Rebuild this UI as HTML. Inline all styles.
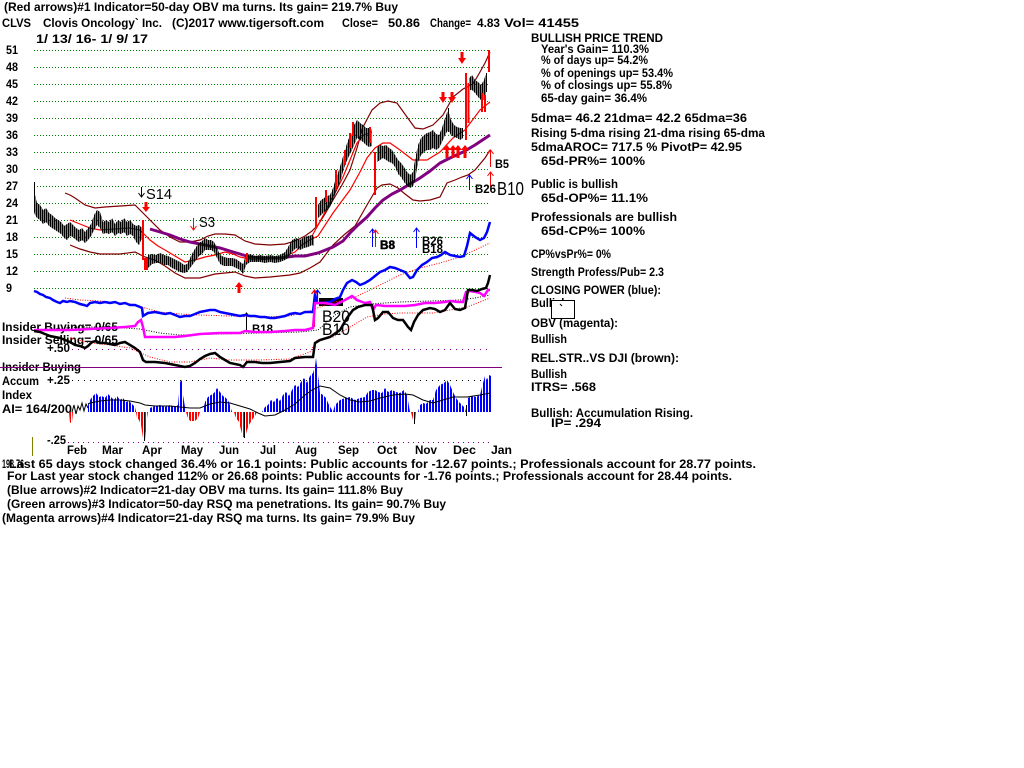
<!DOCTYPE html>
<html><head><meta charset="utf-8"><style>
html,body{margin:0;padding:0;background:#fff;}
svg{display:block;}
.t{font-family:"Liberation Sans",sans-serif;font-weight:bold;font-size:11.5px;fill:#000;}
.n{font-family:"Liberation Sans",sans-serif;font-weight:normal;fill:#000;}
</style></head><body>
<svg width="1024" height="768" viewBox="0 0 1024 768" xmlns="http://www.w3.org/2000/svg">
<rect width="1024" height="768" fill="#fff"/>
<defs>
<pattern id="pb" width="2" height="4" patternUnits="userSpaceOnUse"><rect x="0" y="0" width="1.5" height="4" fill="#000" shape-rendering="crispEdges"/></pattern>
<pattern id="pbl" width="3" height="4" patternUnits="userSpaceOnUse"><rect x="0" y="0" width="1.9" height="4" fill="#0000ff" shape-rendering="crispEdges"/></pattern>
<pattern id="prd" width="3" height="4" patternUnits="userSpaceOnUse"><rect x="0" y="0" width="1.9" height="4" fill="#ff0000" shape-rendering="crispEdges"/></pattern>
</defs>

<!-- header -->
<text class="t" x="4" y="11" textLength="394" lengthAdjust="spacingAndGlyphs">(Red arrows)#1 Indicator=50-day OBV ma turns. Its gain= 219.7% Buy</text>
<text class="t" x="2" y="27" textLength="29" lengthAdjust="spacingAndGlyphs">CLVS</text>
<text class="t" x="43" y="27" textLength="119" lengthAdjust="spacingAndGlyphs">Clovis Oncology` Inc.</text>
<text class="t" x="172" y="27" textLength="152" lengthAdjust="spacingAndGlyphs">(C)2017 www.tigersoft.com</text>
<text class="t" x="342" y="27" textLength="36" lengthAdjust="spacingAndGlyphs">Close=</text>
<text class="t" x="388" y="27" textLength="32" lengthAdjust="spacingAndGlyphs">50.86</text>
<text class="t" x="430" y="27" textLength="41" lengthAdjust="spacingAndGlyphs">Change=</text>
<text class="t" x="477" y="27" textLength="23" lengthAdjust="spacingAndGlyphs">4.83</text>
<text class="t" x="504" y="27" textLength="75" lengthAdjust="spacingAndGlyphs">Vol= 41455</text>
<text class="t" x="36" y="43" textLength="112" lengthAdjust="spacingAndGlyphs">1/ 13/ 16- 1/ 9/ 17</text>

<!-- y labels -->
<g>
<text class="t" x="6" y="54" textLength="12" lengthAdjust="spacingAndGlyphs">51</text>
<text class="t" x="6" y="71" textLength="12" lengthAdjust="spacingAndGlyphs">48</text>
<text class="t" x="6" y="88" textLength="12" lengthAdjust="spacingAndGlyphs">45</text>
<text class="t" x="6" y="105" textLength="12" lengthAdjust="spacingAndGlyphs">42</text>
<text class="t" x="6" y="122" textLength="12" lengthAdjust="spacingAndGlyphs">39</text>
<text class="t" x="6" y="139" textLength="12" lengthAdjust="spacingAndGlyphs">36</text>
<text class="t" x="6" y="156" textLength="12" lengthAdjust="spacingAndGlyphs">33</text>
<text class="t" x="6" y="173" textLength="12" lengthAdjust="spacingAndGlyphs">30</text>
<text class="t" x="6" y="190" textLength="12" lengthAdjust="spacingAndGlyphs">27</text>
<text class="t" x="6" y="207" textLength="12" lengthAdjust="spacingAndGlyphs">24</text>
<text class="t" x="6" y="224" textLength="12" lengthAdjust="spacingAndGlyphs">21</text>
<text class="t" x="6" y="241" textLength="12" lengthAdjust="spacingAndGlyphs">18</text>
<text class="t" x="6" y="258" textLength="12" lengthAdjust="spacingAndGlyphs">15</text>
<text class="t" x="6" y="275" textLength="12" lengthAdjust="spacingAndGlyphs">12</text>
<text class="t" x="6" y="292" textLength="6" lengthAdjust="spacingAndGlyphs">9</text>
</g>

<!-- gridlines -->
<path d="M34 50.5H490M34 67.5H490M34 84.5H490M34 101.5H490M34 118.5H490M34 135.5H490M34 152.5H490M34 169.5H490M34 186.5H490M34 203.5H490M34 220.5H490M34 237.5H490M34 254.5H490M34 271.5H490M34 288.5H490" stroke="#008000" stroke-width="1" stroke-dasharray="1 2" fill="none"/>

<!-- indicator left labels -->
<text class="t" x="2" y="331" textLength="116" lengthAdjust="spacingAndGlyphs">Insider Buying= 0/65</text>
<text class="t" x="2" y="344" textLength="116" lengthAdjust="spacingAndGlyphs">Insider Selling= 0/65</text>
<text class="t" x="47" y="352" textLength="23" lengthAdjust="spacingAndGlyphs">+.50</text>
<text class="t" x="2" y="371" textLength="79" lengthAdjust="spacingAndGlyphs">Insider Buying</text>
<text class="t" x="2" y="385" textLength="37" lengthAdjust="spacingAndGlyphs">Accum</text>
<text class="t" x="47" y="384" textLength="23" lengthAdjust="spacingAndGlyphs">+.25</text>
<text class="t" x="2" y="399" textLength="30" lengthAdjust="spacingAndGlyphs">Index</text>
<text class="t" x="2" y="413" textLength="70" lengthAdjust="spacingAndGlyphs">AI= 164/200</text>
<text class="t" x="47" y="444" textLength="19" lengthAdjust="spacingAndGlyphs">-.25</text>

<!-- indicator reference lines -->
<path d="M72 349.5H490" stroke="#800080" stroke-dasharray="1 5" fill="none"/>
<path d="M72 380.5H490" stroke="#000" stroke-dasharray="1 5" fill="none"/>
<path d="M68 442.5H490" stroke="#800080" stroke-dasharray="1 4" fill="none"/>
<path d="M0 367.5H502" stroke="#800080" stroke-width="1" fill="none"/>
<path d="M32.5 437V456" stroke="#808000" stroke-width="1"/>

<!-- bands -->
<polyline fill="none" stroke="#800000" stroke-width="1.2" points="65,193 70,195 75,198 85,205 95,208 105,207 120,206 135,205 140,210 150,220 160,230 170,237 180,242 190,242 200,240 208,236 215,234 225,234 235,235 245,241 255,244 270,245 285,244 295,241 305,236 312,231 318,225 325,214 333,200 342,185 350,170 357,148 363,127 372,110 380,103 388,101 397,103 407,117 415,128 423,129 433,125 443,115 453,97 463,89 473,84 480,72 485,63 490,52"/>
<polyline fill="none" stroke="#800000" stroke-width="1.2" points="70,245 80,249 90,252 100,254 120,254 135,252 145,257 155,260 165,266 175,273 185,278 200,278 215,274 235,272 245,276 255,278 270,277 290,275 300,273 310,268 320,262 333,245 345,234 355,226 367,205 377,188 382,185 390,184 398,188 405,194 413,200 420,201 430,200 440,197 447,183 455,180 462,177 468,175 475,170 480,164 485,158 490,150"/>
<!-- red lines -->
<polyline fill="none" stroke="#ff0000" stroke-width="1.2" points="70,220 80,224 90,228 100,230 115,229 130,228 140,230 150,240 158,246 165,250 175,256 185,262 195,260 205,257 215,255 225,252 233,254 240,257 255,260 270,259 283,257 295,252 302,245 310,240 318,236 333,213 350,190 360,172 367,158 375,148 383,143 390,143 400,150 413,160 427,160 440,152 453,138 465,130 480,110 490,102"/>
<polyline fill="none" stroke="#ff0000" stroke-width="1.2" points="312,236 317,227 325,212 335,193 343,177 350,160 357,143 364,135 372,132"/>
<!-- purple 65 dma -->
<polyline fill="none" stroke="#800080" stroke-width="3" points="150,229 160,232 170,235 180,239 190,242 200,244 210,246 220,248 230,251 240,254 250,257 265,258 280,258 295,256 305,256 318,253 333,247 343,241 350,233 358,225 367,217 375,208 383,200 392,194 400,190 410,184 420,178 430,171 440,163 450,158 463,152 475,145 490,135"/>

<!-- price bars -->
<polygon fill="url(#pb)" points="34,182 35,195 37,203 40,205 43,210 46,208 49,213 52,215 55,218 58,220 61,222 64,226 67,224 70,222 73,225 76,228 79,230 82,228 85,232 88,228 91,224 94,215 97,210 100,212 103,222 106,220 109,222 112,218 115,224 118,220 121,222 124,218 127,222 130,220 133,224 136,226 139,225 142,228 142,238 139,245 136,242 133,236 130,234 127,236 124,232 121,234 118,233 115,236 112,232 109,234 106,233 103,234 100,228 97,225 94,230 91,236 88,240 85,243 82,240 79,242 76,240 73,237 70,236 67,240 64,238 61,234 58,232 55,230 52,228 49,226 46,222 43,224 40,220 37,218 35,215 34,212"/>
<polygon fill="url(#pb)" points="148,255 152,254 156,255 160,253 164,255 168,256 172,258 176,260 180,262 184,265 187,264 190,258 193,252 196,247 199,243 202,241 205,238 208,240 211,240 214,242 217,248 220,255 224,257 228,258 232,258 236,259 240,262 243,264 246,255 250,254 255,256 260,255 265,256 270,255 275,256 280,255 285,252 288,247 292,240 296,238 300,240 304,237 308,236 312,235 314,236 314,246 312,245 308,247 304,248 300,250 296,248 292,252 288,258 285,260 280,262 275,263 270,262 265,263 260,262 255,262 250,262 246,265 243,274 240,270 236,268 232,266 228,266 224,266 220,264 217,258 214,252 211,250 208,250 205,250 202,254 199,256 196,260 193,264 190,268 187,272 184,273 180,272 176,270 172,268 168,265 164,265 160,263 156,263 152,264 148,268"/>
<polygon fill="url(#pb)" points="318,205 321,200 324,198 327,196 330,195 333,188 336,178 339,170 342,160 345,150 348,140 351,135 354,125 357,120 360,123 363,125 366,128 369,128 372,130 372,146 369,147 366,145 363,142 360,140 357,138 354,145 351,152 348,158 345,165 342,175 339,185 336,192 333,200 330,207 327,210 324,212 321,215 318,218"/>
<polygon fill="url(#pb)" points="377,147 380,145 383,146 386,145 389,148 392,150 395,155 398,160 401,163 404,167 407,172 410,175 413,172 415,160 418,145 421,138 424,135 427,133 430,132 433,130 436,134 439,135 442,128 445,118 448,110 451,120 454,125 457,127 460,128 463,128 463,138 460,140 457,138 454,137 451,135 448,130 445,135 442,142 439,148 436,150 433,148 430,150 427,150 424,152 421,155 418,162 415,180 413,186 410,188 407,186 404,182 401,177 398,174 395,167 392,163 389,162 386,160 383,158 380,160 377,162"/>
<polygon fill="url(#pb)" points="469,78 472,75 475,80 478,82 481,85 484,80 486,73 487,73 487,90 486,92 484,100 481,100 478,97 475,93 472,90 469,90"/>
<path d="M34.5 182V212M486.5 73V92M448.5 108V132" stroke="#000" stroke-width="1"/>

<!-- red price bars -->
<path stroke="#ff0000" stroke-width="2" fill="none" d="M143 220V260M145 258V270M147 258V270M247 253V262M316 197V228M326 190V202M336 170V190M345 150V165M350 133V148M353 122V136M370 127V143M375 152V195M466 73V140M468.5 83V123M482 93V112M485 95V112M489 50V72"/>

<!-- thick arrows -->
<g fill="#ff0000">
<rect x="144.5" y="202" width="3" height="6"/><polygon points="142,207 150,207 146,212"/>
<rect x="460.5" y="52" width="3" height="7"/><polygon points="458,58 466,58 462,64"/>
<rect x="441.5" y="92" width="3" height="6"/><polygon points="439,97 447,97 443,103"/>
<rect x="450.5" y="92" width="3" height="6"/><polygon points="448,97 456,97 452,103"/>
<polygon points="239,282 235,287 243,287"/><rect x="237.5" y="287" width="3" height="6"/>
<polygon points="447,145 443,150 451,150"/><rect x="445.5" y="150" width="3" height="8"/>
<polygon points="453,145 449,150 457,150"/><rect x="451.5" y="150" width="3" height="8"/>
<polygon points="458,145 454,150 462,150"/><rect x="456.5" y="150" width="3" height="8"/>
<polygon points="465,145 461,150 469,150"/><rect x="463.5" y="150" width="3" height="8"/>
</g>
<!-- thin arrows -->
<path fill="none" stroke="#000" stroke-width="1" d="M141.5 187V197M138.5 193L141.5 197L144.5 193"/>
<path fill="none" stroke="#ff0000" stroke-width="1" d="M193.5 218V230M190.5 226L193.5 230L196.5 226"/>
<path fill="none" stroke="#ff0000" stroke-width="1" d="M490.5 150V167M487.5 154L490.5 150L493.5 154M490.5 172V187M487.5 176L490.5 172L493.5 176"/>
<path fill="none" stroke="#0000ff" stroke-width="1" d="M469.5 175V190M466.5 179L469.5 175L472.5 179"/>
<path fill="none" stroke="#0000ff" stroke-width="1" d="M372.5 229V247M369.5 233L372.5 229L375.5 233M416.5 228V248M413.5 232L416.5 228L419.5 232"/>
<path fill="none" stroke="#ff0000" stroke-width="1" d="M375.5 230V247M372.5 234L375.5 230L378.5 234"/>
<path fill="none" stroke="#000" stroke-width="1" d="M246.5 313V330M243.5 317L246.5 313L249.5 317"/>
<path fill="none" stroke="#ff0000" stroke-width="1.2" d="M314.5 290V327M311.5 294L314.5 290L317.5 294"/>
<path fill="none" stroke="#0000ff" stroke-width="1.2" d="M317.5 290V304M314.5 294L317.5 290L320.5 294"/>

<!-- arrow labels -->
<text class="n" x="146" y="199" font-size="15" textLength="26" lengthAdjust="spacingAndGlyphs">S14</text>
<text class="n" x="199" y="227" font-size="15" textLength="16" lengthAdjust="spacingAndGlyphs">S3</text>
<text class="n" x="497" y="195" font-size="18" textLength="27" lengthAdjust="spacingAndGlyphs">B10</text>
<text class="t" x="495" y="168" textLength="14" lengthAdjust="spacingAndGlyphs">B5</text>
<text class="t" x="475" y="193" textLength="21" lengthAdjust="spacingAndGlyphs">B26</text>
<text class="t" x="380" y="249" textLength="15" lengthAdjust="spacingAndGlyphs" stroke="#000" stroke-width="0.5">B8</text>
<text class="t" x="422" y="245" textLength="21" lengthAdjust="spacingAndGlyphs">B26</text>
<text class="t" x="422" y="253" textLength="21" lengthAdjust="spacingAndGlyphs">B18</text>
<text class="t" x="252" y="333" textLength="21" lengthAdjust="spacingAndGlyphs">B18</text>
<rect x="319" y="298" width="24" height="8" fill="#000"/>
<text class="n" x="322" y="322" font-size="17" textLength="28" lengthAdjust="spacingAndGlyphs">B20</text>
<text class="n" x="322" y="335" font-size="17" textLength="28" lengthAdjust="spacingAndGlyphs">B10</text>

<!-- closing power -->
<polyline fill="none" stroke="#ff0000" stroke-width="1" stroke-dasharray="1 1.5" points="65,298 80,300 100,301 130,304 145,308 160,312 180,314 200,315 230,316 260,317 290,316 310,311 330,303 353,298 370,290 380,285 400,275 420,268 440,263 460,257 475,250 490,243"/>
<polyline fill="none" stroke="#0000ff" stroke-width="2.5" points="34,291 37,292 40,294 43,295 46,297 50,298 53,300 57,302 60,303 63,301 67,302 70,301 75,302 80,304 84,305 87,306 90,303 95,302 100,303 105,302 110,303 115,302 120,304 125,303 130,305 135,305 140,307 142,308 143,316 148,313 155,312 160,313 165,314 170,313 175,315 180,317 185,316 190,316 195,314 200,312 205,311 210,310 215,310 220,312 225,313 230,314 235,315 240,316 245,315 250,316 255,316 260,317 265,317 270,318 275,318 280,317 285,316 290,314 295,313 300,314 305,312 310,312 313,312 315,294 317,303 322,303 330,302 335,299 340,297 343,290 347,283 352,280 356,282 360,285 365,283 370,280 375,276 380,272 385,270 390,267 395,268 400,270 405,272 410,278 413,277 417,270 422,265 427,262 432,258 437,257 441,255 445,252 450,255 455,256 460,257 464,256 467,246 470,233 475,237 480,240 484,238 487,232 490,222"/>
<!-- OBV -->
<polyline fill="none" stroke="#000" stroke-width="1" stroke-dasharray="1 1.5" points="34,330 80,327 110,327 140,329 160,333 180,335 220,334 260,333 300,332 318,330 335,315 350,307 370,304 400,302 430,301 460,300 475,298 490,295"/>
<polyline fill="none" stroke="#ff00ff" stroke-width="2.5" points="34,330 50,330 70,330 90,329 110,328 125,327 135,326 138,322 141,320 143,327 145,337 160,337 175,337 185,336 200,334 220,333 240,333 245,331 255,332 270,332 285,331 295,330 305,330 313,328 315,303 318,303 325,303 335,305 345,300 352,296 357,300 365,303 370,302 373,310 376,305 385,306 395,306 405,306 415,305 425,303 435,303 445,302 450,301 458,302 463,302 466,292 470,291 476,292 480,293 484,296 488,290 490,290"/>
<!-- relative strength -->
<polyline fill="none" stroke="#ff0000" stroke-width="1" stroke-dasharray="1 1.5" points="70,338 90,343 110,345 130,348 150,357 170,362 190,362 210,358 230,360 260,360 290,359 310,352 317,340 333,337 350,327 367,317 385,314 400,313 433,313 467,307 490,298"/>
<polyline fill="none" stroke="#000" stroke-width="2.5" points="34,331 40,332 45,334 50,336 55,337 60,338 65,340 70,342 75,345 80,346 85,348 88,346 92,342 96,341 100,343 105,343 110,344 115,345 120,343 125,342 130,345 135,348 140,352 143,360 146,362 155,362 165,363 175,365 185,367 190,366 195,363 200,359 205,356 210,354 215,353 220,357 225,360 230,363 240,365 243,367 247,362 255,362 262,363 270,363 280,362 290,361 295,358 305,357 313,357 315,343 320,340 330,337 340,330 347,318 353,310 358,307 365,305 372,305 375,320 378,318 383,312 388,312 393,318 398,320 403,320 408,327 411,330 414,322 418,315 423,310 430,308 435,309 440,312 445,310 450,303 455,309 460,310 465,308 468,290 472,290 477,291 482,289 486,288 488,283 490,275"/>

<!-- accumulation histogram -->
<g fill="url(#pbl)">
<polygon points="88,412 88,405 90,400 93,396 96,393 99,397 102,396 105,398 108,394 111,397 114,400 117,396 120,400 123,398 126,402 129,401 132,404 135,407 136,412"/>
<polygon points="150,412 150,408 155,406 160,405 165,407 170,405 175,407 178,405 180,382 182,380 183,395 185,407 186,412"/>
<polygon points="203,412 205,402 208,397 211,395 214,393 217,388 220,392 223,396 226,398 229,402 232,412"/>
<polygon points="262,412 265,407 268,405 271,400 274,402 277,398 280,401 283,395 286,392 289,396 292,390 295,385 298,387 301,382 304,378 307,383 310,376 313,373 315,366 316,358 318,375 320,393 323,395 326,398 329,405 332,410 333,412"/>
<polygon points="333,412 335,405 340,400 345,398 350,397 355,400 360,398 365,397 368,392 372,390 375,390 378,392 382,393 385,388 388,392 392,390 396,392 400,393 404,390 407,395 410,412"/>
<polygon points="418,412 420,405 423,403 426,404 430,400 433,400 436,390 440,385 444,383 447,380 450,385 453,392 456,398 459,402 462,405 465,408 466,412"/>
<polygon points="468,412 468,398 472,396 476,397 480,395 483,383 485,376 487,380 489,375 491,376 491,412"/>
</g>
<g fill="url(#prd)">
<polygon points="69,412 70,423 72,422 73,412"/>
<polygon points="136,412 137,418 139,420 141,425 143,438 145,440 146,430 147,418 148,412"/>
<polygon points="186,412 188,418 190,421 195,421 198,418 200,412"/>
<polygon points="234,412 236,418 239,422 241,430 243,437 245,438 247,430 249,425 252,420 255,416 257,412"/>
<polygon points="411,412 413,420 415,421 416,412"/>
</g>
<path d="M144.5 412V441M244.5 412V438M414.5 412V424M466.5 405V416" stroke="#000" stroke-width="1"/>
<polyline fill="none" stroke="#000" stroke-width="1" points="72,412 74,405 76,414 78,406 80,410 82,403 84,411 86,404 88,408"/>
<polyline fill="none" stroke="#000" stroke-width="1" points="88,404 90,403 100,401 110,400 120,400 130,401 140,403 145,405 155,406 170,406 180,407 190,408 200,408 210,404 220,402 230,403 240,406 250,409 258,413 265,416 275,415 285,410 295,404 305,395 312,390 320,386 330,388 340,395 350,400 360,402 370,401 380,398 393,395 405,394 413,395 423,400 433,403 443,400 453,397 467,397 480,395 490,393"/>

<!-- month labels -->
<text class="t" x="67" y="454" textLength="20" lengthAdjust="spacingAndGlyphs">Feb</text>
<text class="t" x="102" y="454" textLength="21" lengthAdjust="spacingAndGlyphs">Mar</text>
<text class="t" x="142" y="454" textLength="20" lengthAdjust="spacingAndGlyphs">Apr</text>
<text class="t" x="181" y="454" textLength="22" lengthAdjust="spacingAndGlyphs">May</text>
<text class="t" x="219" y="454" textLength="20" lengthAdjust="spacingAndGlyphs">Jun</text>
<text class="t" x="260" y="454" textLength="16" lengthAdjust="spacingAndGlyphs">Jul</text>
<text class="t" x="295" y="454" textLength="22" lengthAdjust="spacingAndGlyphs">Aug</text>
<text class="t" x="338" y="454" textLength="21" lengthAdjust="spacingAndGlyphs">Sep</text>
<text class="t" x="377" y="454" textLength="20" lengthAdjust="spacingAndGlyphs">Oct</text>
<text class="t" x="415" y="454" textLength="22" lengthAdjust="spacingAndGlyphs">Nov</text>
<text class="t" x="453" y="454" textLength="23" lengthAdjust="spacingAndGlyphs">Dec</text>
<text class="t" x="491" y="454" textLength="21" lengthAdjust="spacingAndGlyphs">Jan</text>

<!-- bottom text -->
<text class="t" x="2" y="468" textLength="22" lengthAdjust="spacingAndGlyphs">198.76</text>
<text class="t" x="9" y="468" textLength="747" lengthAdjust="spacingAndGlyphs">Last 65 days stock changed  36.4% or  16.1 points:  Public accounts for -12.67 points.;  Professionals account for  28.77 points.</text>
<text class="t" x="7" y="480" textLength="725" lengthAdjust="spacingAndGlyphs">For Last year stock changed  112% or  26.68 points:  Public accounts for -1.76 points.;  Professionals account for  28.44 points.</text>
<text class="t" x="7" y="494" textLength="396" lengthAdjust="spacingAndGlyphs">(Blue arrows)#2 Indicator=21-day OBV ma turns. Its gain= 111.8% Buy</text>
<text class="t" x="7" y="508" textLength="439" lengthAdjust="spacingAndGlyphs">(Green arrows)#3 Indicator=50-day RSQ ma penetrations. Its gain= 90.7% Buy</text>
<text class="t" x="2" y="522" textLength="413" lengthAdjust="spacingAndGlyphs">(Magenta arrows)#4 Indicator=21-day RSQ ma turns. Its gain= 79.9% Buy</text>

<!-- right panel -->
<text class="t" x="531" y="42" textLength="132" lengthAdjust="spacingAndGlyphs">BULLISH PRICE TREND</text>
<text class="t" x="541" y="53" textLength="108" lengthAdjust="spacingAndGlyphs">Year's Gain= 110.3%</text>
<text class="t" x="541" y="64" textLength="107" lengthAdjust="spacingAndGlyphs">% of days up= 54.2%</text>
<text class="t" x="541" y="77" textLength="132" lengthAdjust="spacingAndGlyphs">% of openings up= 53.4%</text>
<text class="t" x="541" y="89" textLength="131" lengthAdjust="spacingAndGlyphs">% of closings up= 55.8%</text>
<text class="t" x="541" y="102" textLength="106" lengthAdjust="spacingAndGlyphs">65-day gain= 36.4%</text>
<text class="t" x="531" y="122" textLength="216" lengthAdjust="spacingAndGlyphs">5dma= 46.2 21dma= 42.2 65dma=36</text>
<text class="t" x="531" y="137" textLength="234" lengthAdjust="spacingAndGlyphs">Rising 5-dma rising 21-dma rising 65-dma</text>
<text class="t" x="531" y="151" textLength="211" lengthAdjust="spacingAndGlyphs">5dmaAROC= 717.5 %  PivotP= 42.95</text>
<text class="t" x="541" y="165" textLength="104" lengthAdjust="spacingAndGlyphs">65d-PR%= 100%</text>
<text class="t" x="531" y="188" textLength="87" lengthAdjust="spacingAndGlyphs">Public is bullish</text>
<text class="t" x="541" y="202" textLength="107" lengthAdjust="spacingAndGlyphs">65d-OP%= 11.1%</text>
<text class="t" x="531" y="221" textLength="146" lengthAdjust="spacingAndGlyphs">Professionals are bullish</text>
<text class="t" x="541" y="235" textLength="104" lengthAdjust="spacingAndGlyphs">65d-CP%= 100%</text>
<text class="t" x="531" y="258" textLength="80" lengthAdjust="spacingAndGlyphs">CP%vsPr%=  0%</text>
<text class="t" x="531" y="276" textLength="133" lengthAdjust="spacingAndGlyphs">Strength Profess/Pub= 2.3</text>
<text class="t" x="531" y="294" textLength="130" lengthAdjust="spacingAndGlyphs">CLOSING POWER (blue):</text>
<text class="t" x="531" y="307" textLength="37" lengthAdjust="spacingAndGlyphs">Bullish</text>
<rect x="551.5" y="300.5" width="23" height="18" fill="#fff" stroke="#000" stroke-width="1"/>
<path d="M560 304L562 306" stroke="#000" stroke-width="1"/>
<text class="t" x="531" y="327" textLength="87" lengthAdjust="spacingAndGlyphs">OBV (magenta):</text>
<text class="t" x="531" y="343" textLength="36" lengthAdjust="spacingAndGlyphs">Bullish</text>
<text class="t" x="531" y="362" textLength="148" lengthAdjust="spacingAndGlyphs">REL.STR..VS DJI (brown):</text>
<text class="t" x="531" y="378" textLength="36" lengthAdjust="spacingAndGlyphs">Bullish</text>
<text class="t" x="531" y="391" textLength="65" lengthAdjust="spacingAndGlyphs">ITRS= .568</text>
<text class="t" x="531" y="417" textLength="162" lengthAdjust="spacingAndGlyphs">Bullish: Accumulation Rising.</text>
<text class="t" x="551" y="427" textLength="50" lengthAdjust="spacingAndGlyphs">IP=  .294</text>
</svg>
</body></html>
